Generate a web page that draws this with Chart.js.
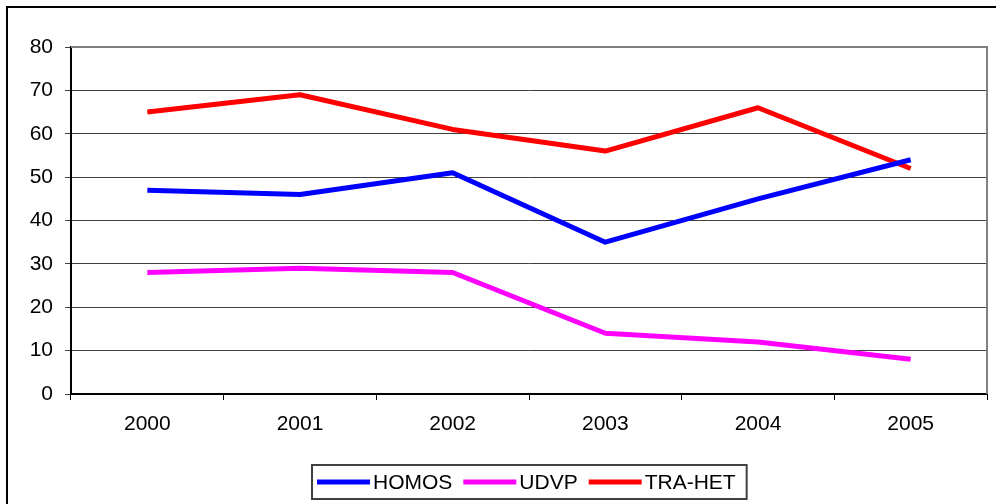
<!DOCTYPE html>
<html>
<head>
<meta charset="utf-8">
<script src="https://cdn.jsdelivr.net/npm/chart.js@4.4.1/dist/chart.umd.min.js"></script>
<style>
  html, body { margin: 0; padding: 0; background: #fff; }
  canvas { display: block; }
</style>
</head>
<body>
<canvas id="chart" width="996" height="504"></canvas>
<script>
// data
const YEARS   = ['2000', '2001', '2002', '2003', '2004', '2005'];
const HOMOS   = [47, 46, 51, 35, 45, 54];
const UDVP    = [28, 29, 28, 14, 12, 8];
const TRA_HET = [65, 69, 61, 56, 66, 52];
const Y_MIN = 0, Y_MAX = 80, Y_STEP = 10;

const FONT_FAMILY = "'Liberation Sans', Arial, sans-serif";
const FONT_SIZE = 21;

// outer frame + gray top/right edges of the plot area
const frame = {
  id: 'frame',
  beforeDraw(chart) {
    const ctx = chart.ctx;
    ctx.save();
    ctx.strokeStyle = '#000';
    ctx.lineWidth = 2;
    ctx.strokeRect(7, 7, 2000, 2000);
    ctx.restore();
  },
  beforeDatasetsDraw(chart) {
    const { ctx, chartArea: a } = chart;
    ctx.save();
    ctx.strokeStyle = '#808080';
    ctx.lineWidth = 2;
    ctx.beginPath();
    ctx.moveTo(a.left, a.top);
    ctx.lineTo(a.right, a.top);
    ctx.lineTo(a.right, a.bottom);
    ctx.stroke();
    ctx.restore();
  },
};

// Excel-style boxed legend under the x axis
const boxLegend = {
  id: 'boxLegend',
  afterDraw(chart) {
    const { ctx, chartArea: a } = chart;
    const lineLen = 53, gapText = 3, gapItem = 11, padL = 5, padR = 11;
    const boxH = 34, cy = 482;
    ctx.save();
    ctx.font = `${FONT_SIZE}px ${FONT_FAMILY}`;
    const items = chart.data.datasets.map(ds => ({
      label: ds.label, color: ds.borderColor, w: ctx.measureText(ds.label).width,
    }));
    const inner = items.reduce((s, it) => s + lineLen + gapText + it.w, 0) + gapItem * (items.length - 1);
    const boxW = padL + inner + padR;
    const boxX = Math.round((a.left + a.right) / 2 - boxW / 2);
    ctx.strokeStyle = '#404040';
    ctx.lineWidth = 2;
    ctx.strokeRect(boxX, cy - boxH / 2, boxW, boxH);

    let x = boxX + padL;
    ctx.textBaseline = 'middle';
    ctx.textAlign = 'left';
    items.forEach(it => {
      ctx.strokeStyle = it.color;
      ctx.lineWidth = 5;
      ctx.beginPath();
      ctx.moveTo(x, cy);
      ctx.lineTo(x + lineLen, cy);
      ctx.stroke();
      x += lineLen + gapText;
      ctx.fillStyle = '#000';
      ctx.fillText(it.label, x, cy + 1);
      x += it.w + gapItem;
    });
    ctx.restore();
  },
};

const series = (label, data, color) => ({
  label, data,
  borderColor: color,
  backgroundColor: color,
  borderWidth: 5,
  borderJoinStyle: 'round',
  pointRadius: 0,
  tension: 0,
  fill: false,
});

new Chart(document.getElementById('chart'), {
  type: 'line',
  data: {
    labels: YEARS,
    datasets: [
      series('HOMOS', HOMOS, '#0000ff'),
      series('UDVP', UDVP, '#ff00ff'),
      series('TRA-HET', TRA_HET, '#ff0000'),
    ],
  },
  options: {
    responsive: false,
    animation: false,
    layout: { padding: { left: 0, top: 47, right: 9, bottom: 60 } },
    plugins: {
      legend: { display: false },
      tooltip: { enabled: false },
    },
    scales: {
      x: {
        offset: true,
        afterFit: s => { s.height = 50; },
        grid: { offset: true, drawOnChartArea: false, drawTicks: true, tickLength: 6, color: '#000', lineWidth: 1 },
        border: { color: '#000', width: 2 },
        ticks: { color: '#000', padding: 12, font: { family: FONT_FAMILY, size: FONT_SIZE } },
      },
      y: {
        min: Y_MIN, max: Y_MAX,
        afterFit: s => { s.width = 71; },
        grid: { color: '#404040', lineWidth: 1, tickLength: 6 },
        border: { color: '#000', width: 2 },
        ticks: { stepSize: Y_STEP, color: '#000', padding: 12, font: { family: FONT_FAMILY, size: FONT_SIZE } },
      },
    },
  },
  plugins: [frame, boxLegend],
});
</script>
</body>
</html>
